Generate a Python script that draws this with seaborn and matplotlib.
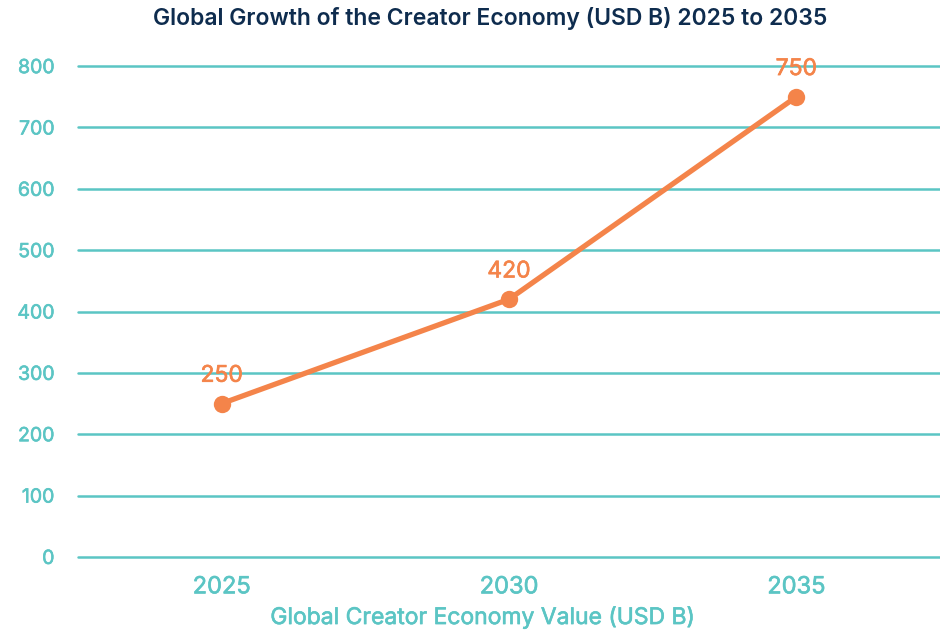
import matplotlib
matplotlib.use("Agg")
import matplotlib.pyplot as plt
import matplotlib.patheffects as pe
import pandas as pd
import seaborn as sns

# Creator economy market size, USD billions
years = ["2025", "2030", "2035"]
values = [250, 420, 750]
y_ticks = [0, 100, 200, 300, 400, 500, 600, 700, 800]

TEAL = "#5BC5C4"
ORANGE = "#F4844A"
NAVY = "#0E2C4E"

sns.set_theme(style="white")
plt.rcParams["font.family"] = ["Inter", "DejaVu Sans"]


def heavier(color, w=0.45):
    # thin outline in the text colour gives a medium-weight look
    return [pe.withStroke(linewidth=w, foreground=color)]


df = pd.DataFrame({"year": years, "value": values})

fig = plt.figure(figsize=(9.4, 6.3), dpi=100)
ax = fig.add_axes([0.083, 0.116, 0.917, 0.779])

sns.lineplot(data=df, x="year", y="value", ax=ax, color=ORANGE,
             linewidth=3.8, marker="o", markersize=12.5,
             markeredgewidth=0, sort=False, zorder=3, clip_on=False)

for i, v in enumerate(values):
    ax.annotate(f"{v}", (i, v), xytext=(0, 20), textcoords="offset points",
                ha="center", va="center", fontsize=16.5, color=ORANGE,
                annotation_clip=False, zorder=4,
                path_effects=heavier(ORANGE))

ax.set_xlim(-0.5, 2.5)
ax.set_ylim(0, 800)
ax.set_yticks(y_ticks)
ax.yaxis.grid(True, color=TEAL, linewidth=1.8)
ax.xaxis.grid(False)
ax.set_axisbelow(True)
for s in ax.spines.values():
    s.set_visible(False)
for gl in ax.get_ygridlines():
    gl.set_clip_on(False)

ax.tick_params(axis="y", length=0, pad=17, labelsize=14, labelcolor=TEAL)
ax.tick_params(axis="x", length=0, pad=14, labelsize=17, labelcolor=TEAL)
for lbl in ax.get_xticklabels() + ax.get_yticklabels():
    lbl.set_path_effects(heavier(TEAL))
ax.set_ylabel("")
ax.set_xlabel("Global Creator Economy Value (USD B)", fontsize=16.5,
              color=TEAL, path_effects=heavier(TEAL))
ax.xaxis.set_label_coords(0.469, -0.123)
ax.xaxis.label.set_va("center")

fig.text(0.521, 0.971, "Global Growth of the Creator Economy (USD B) 2025 to 2035",
         ha="center", va="center", fontsize=16.5, fontweight="semibold",
         color=NAVY)

fig.savefig("out.png", dpi=100)
